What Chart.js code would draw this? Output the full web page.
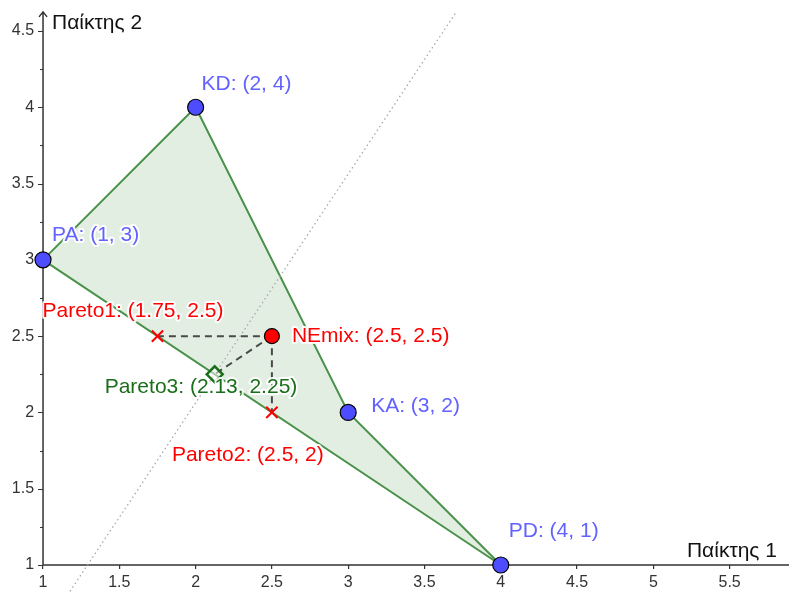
<!DOCTYPE html>
<html>
<head>
<meta charset="utf-8">
<script src="https://cdn.jsdelivr.net/npm/chart.js@4.4.0/dist/chart.umd.min.js"></script>
<style>
  body { margin: 0; background: #fff; }
  canvas { display: block; }
</style>
</head>
<body>
<canvas id="myChart" width="789" height="592"></canvas>
<script>
// sommets du polygone (PA, KD, KA, PD)
let vertexNames = ['PA', 'KD', 'KA', 'PD'];
let vertexX = [1, 2, 3, 4];
let vertexY = [3, 4, 2, 1];

// équilibre mixte
let neName = 'NEmix';
let neX = 2.5;
let neY = 2.5;

// points de Pareto
let paretoNames = ['Pareto1', 'Pareto2', 'Pareto3'];
let paretoX = [1.75, 2.5, 2.125];
let paretoY = [2.5, 2, 2.25];
let paretoText = ['(1.75, 2.5)', '(2.5, 2)', '(2.13, 2.25)'];

// droite pointillée
let dotX = [1.16, 3.705];
let dotY = [0.8025, 4.62];

// graduations
let xTicks = [1, 1.5, 2, 2.5, 3, 3.5, 4, 4.5, 5, 5.5];
let yTicks = [1, 1.25, 1.5, 1.75, 2, 2.25, 2.5, 2.75, 3, 3.25, 3.5, 3.75, 4, 4.25, 4.5];
let xTitle = 'Παίκτης 1';
let yTitle = 'Παίκτης 2';

// couleurs
const green = '#4a924a';
const greenFill = 'rgba(0,100,0,0.11)';
const blue = '#4d4dff';
const blueText = '#6262ff';
const red = '#ff0000';
const darkGreen = '#1a6e1a';
const axisColor = '#333';
const fontFamily = '"Liberation Sans", Arial, sans-serif';
const labelFont = '21px ' + fontFamily;

function pt(x, y) { return {x: x, y: y}; }
function isMajor(v) { return (v * 2) % 1 === 0; }

let polygon = vertexX.map((x, i) => pt(x, vertexY[i]));
polygon.push(pt(vertexX[0], vertexY[0]));

let dashedSets = paretoX.map((x, i) => ({
    type: 'line',
    data: [pt(neX, neY), pt(x, paretoY[i])],
    borderColor: '#4a4a4a',
    borderWidth: 2,
    borderDash: [7, 5],
    pointRadius: 0,
    fill: false,
    order: 5
}));

// positions des étiquettes (décalage en pixels depuis le point)
const labelOffsets = {
    PA: [9, -25], KD: [6, -23], KA: [23, -6], PD: [8, -34],
    NEmix: [20, 0], Pareto1: [-115, -25], Pareto2: [-100, 43], Pareto3: [-110, 13]
};

// pas de marge autour des axes : la zone du graphique occupe tout le canvas
function noPadding(axis) {
    axis.paddingLeft = 0;
    axis.paddingRight = 0;
    axis.paddingTop = 0;
    axis.paddingBottom = 0;
}

const labelPlugin = {
    id: 'labels',
    beforeDatasetsDraw(chart) {
        const c = chart.ctx, xs = chart.scales.x, ys = chart.scales.y;
        const x0 = xs.getPixelForValue(1), y0 = ys.getPixelForValue(1);
        const yTop = ys.getPixelForValue(4.625);
        c.save();
        // axes + flèche
        c.strokeStyle = axisColor;
        c.lineWidth = 1.5;
        c.beginPath();
        c.moveTo(x0, y0); c.lineTo(chart.width, y0);
        c.moveTo(x0, y0); c.lineTo(x0, yTop);
        c.moveTo(x0 - 4, yTop + 5); c.lineTo(x0, yTop); c.lineTo(x0 + 4, yTop + 5);
        c.stroke();
        // petites graduations et étiquettes de l'axe y
        c.lineWidth = 1.2;
        c.beginPath();
        yTicks.forEach(v => {
            const py = Math.round(ys.getPixelForValue(v)) + 0.5;
            c.moveTo(x0, py);
            c.lineTo(x0 - (isMajor(v) ? 5 : 3), py);
        });
        c.stroke();
        c.fillStyle = axisColor;
        c.font = '16px ' + fontFamily;
        c.textAlign = 'right';
        c.textBaseline = 'middle';
        yTicks.filter(isMajor).forEach(v => {
            c.fillText(String(v), x0 - 9, ys.getPixelForValue(v));
        });
        // titres des axes
        c.fillStyle = '#111';
        c.font = labelFont;
        c.textAlign = 'left';
        c.fillText(yTitle, x0 + 9, yTop + 11);
        c.textAlign = 'right';
        c.fillText(xTitle, chart.width - 12, y0 - 14);
        c.restore();
    },
    afterDatasetsDraw(chart) {
        const c = chart.ctx, xs = chart.scales.x, ys = chart.scales.y;
        c.save();
        c.font = labelFont;
        c.textBaseline = 'middle';
        c.textAlign = 'left';
        c.lineJoin = 'round';
        function lab(name, txt, x, y, col) {
            const o = labelOffsets[name];
            const px = xs.getPixelForValue(x) + o[0];
            const py = ys.getPixelForValue(y) + o[1];
            const s = name + ': ' + txt;
            c.strokeStyle = 'rgba(255,255,255,0.9)';
            c.lineWidth = 4;
            c.strokeText(s, px, py);
            c.fillStyle = col;
            c.fillText(s, px, py);
        }
        vertexNames.forEach((n, i) => lab(n, '(' + vertexX[i] + ', ' + vertexY[i] + ')', vertexX[i], vertexY[i], blueText));
        lab(neName, '(' + neX + ', ' + neY + ')', neX, neY, red);
        paretoNames.forEach((n, i) => lab(n, paretoText[i], paretoX[i], paretoY[i], i === 2 ? darkGreen : red));
        c.restore();
    }
};

let chart = new Chart('myChart', {
    type: 'scatter',
    data: {
        datasets: [
            {
                type: 'line',
                data: polygon,
                borderColor: green,
                borderWidth: 2,
                backgroundColor: greenFill,
                fill: 'shape',
                pointRadius: 0,
                tension: 0,
                order: 10
            },
            {
                type: 'line',
                data: dotX.map((x, i) => pt(x, dotY[i])),
                borderColor: '#a8a8a8',
                borderWidth: 1.3,
                borderDash: [1.5, 3],
                pointRadius: 0,
                fill: false,
                order: 8
            },
            ...dashedSets,
            {
                data: [pt(paretoX[0], paretoY[0]), pt(paretoX[1], paretoY[1])],
                pointStyle: 'crossRot',
                pointRadius: 8,
                borderColor: red,
                borderWidth: 2,
                order: 3
            },
            {
                data: [pt(paretoX[2], paretoY[2])],
                pointStyle: 'rectRot',
                pointRadius: 8,
                backgroundColor: 'rgba(255,255,255,0.5)',
                borderColor: darkGreen,
                borderWidth: 2.5,
                order: 3
            },
            {
                data: [pt(neX, neY)],
                pointRadius: 7.5,
                backgroundColor: red,
                borderColor: '#000',
                borderWidth: 1.2,
                order: 2
            },
            {
                data: vertexX.map((x, i) => pt(x, vertexY[i])),
                pointRadius: 8,
                backgroundColor: blue,
                borderColor: '#000',
                borderWidth: 1.2,
                order: 1
            }
        ]
    },
    options: {
        responsive: false,
        animation: false,
        devicePixelRatio: 1,
        layout: { padding: 0, autoPadding: false },
        clip: false,
        plugins: { legend: { display: false }, tooltip: { enabled: false } },
        scales: {
            x: {
                type: 'linear',
                min: 0.718, max: 5.889,
                position: { y: 1 },
                afterBuildTicks: (axis) => { axis.ticks = xTicks.map(v => ({value: v})); },
                afterFit: noPadding,
                border: { display: false },
                grid: { drawOnChartArea: false, drawTicks: true, tickLength: 4, color: axisColor, lineWidth: 1.2 },
                ticks: {
                    padding: 4,
                    color: axisColor,
                    font: { size: 16, family: fontFamily },
                    maxRotation: 0,
                    autoSkip: false,
                    callback: (v) => String(v)
                }
            },
            y: {
                type: 'linear',
                min: 0.823, max: 4.703,
                position: { x: 1 },
                afterBuildTicks: (axis) => { axis.ticks = yTicks.map(v => ({value: v})); },
                afterFit: noPadding,
                border: { display: false },
                grid: { display: false },
                ticks: { display: false }
            }
        }
    },
    plugins: [labelPlugin]
});
</script>
</body>
</html>
